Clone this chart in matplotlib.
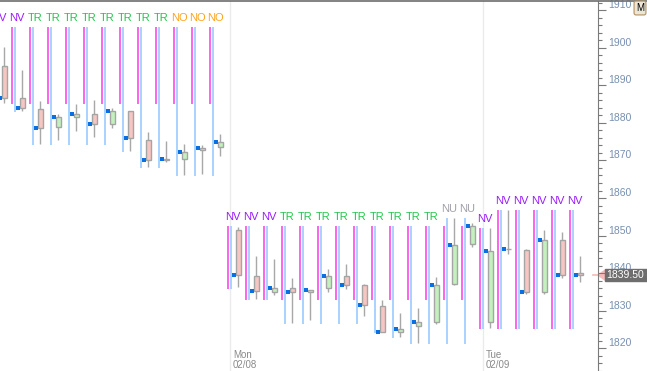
import numpy as np
import matplotlib.pyplot as plt
from matplotlib.lines import Line2D
from matplotlib.patches import Rectangle, Polygon
from matplotlib.transforms import blended_transform_factory

plt.rcParams['font.family'] = ['Liberation Sans', 'DejaVu Sans']

# candles (3 sessions, 30 min bars)
opens = [1895.0, 1886.5, 1883.75, 1879.0, 1881.5, 1882.25, 1879.75, 1883.25, 1875.5, 1870.0,
         1870.5, 1872.75, 1873.5,
         1851.5, 1839.25, 1835.0, 1836.0, 1835.0, 1836.0, 1839.25, 1837.0, 1831.25, 1824.25,
         1826.0, 1827.0, 1837.25, 1847.75,
         1827.0, 1846.5, 1846.25, 1835.0, 1848.75, 1840.0]
highs = [1900.25, 1894.0, 1885.75, 1882.25, 1885.0, 1886.0, 1884.0, 1883.25, 1877.5, 1875.25,
         1874.25, 1874.0, 1877.0,
         1852.25, 1844.5, 1843.75, 1838.75, 1835.5, 1841.0, 1842.5, 1837.25, 1833.0, 1829.5,
         1830.75, 1839.0, 1854.75, 1853.25,
         1852.0, 1856.75, 1846.5, 1851.5, 1851.0, 1844.5]
lows = [1885.25, 1883.25, 1874.25, 1875.5, 1877.75, 1876.25, 1878.5, 1872.5, 1868.25, 1869.5,
        1866.0, 1866.5, 1871.25,
        1836.25, 1833.25, 1834.25, 1826.75, 1827.5, 1835.0, 1835.75, 1828.5, 1824.25, 1823.0,
        1821.5, 1826.5, 1837.0, 1847.0,
        1825.5, 1845.0, 1834.5, 1834.5, 1838.75, 1837.75]
closes = [1886.5, 1884.0, 1878.75, 1881.5, 1882.25, 1879.75, 1883.25, 1876.0, 1870.0, 1870.5,
          1872.25, 1873.25, 1875.0,
          1839.5, 1835.25, 1836.0, 1835.0, 1835.5, 1839.25, 1837.0, 1831.5, 1824.25, 1825.25,
          1827.0, 1837.0, 1847.5, 1852.5,
          1846.0, 1846.5, 1835.0, 1848.75, 1839.5, 1839.5]

# indicator bars
pink_top = [1905.5] * 13 + [1852.5] * 14 + [1852.0] + [1856.75] * 5
pink_bot = [1885.0] * 13 + [1835.75, 1833.0, 1833.0] + [1833.0] * 11 + [1825.25] * 6
blue_top = [1905.5] * 13 + [1852.5] * 12 + [1854.75, 1854.75] + [1852.0] + [1856.75] * 5
blue_bot = [1882.75, 1882.75, 1874.0, 1874.0, 1874.0, 1874.0, 1874.0, 1872.25, 1868.0, 1868.0,
            1865.75, 1865.75, 1865.75,
            1835.75, 1833.0, 1833.0, 1826.5, 1826.5, 1826.5, 1826.5, 1826.5, 1824.0, 1822.75,
            1821.25, 1821.25, 1821.25, 1821.25] + [1825.25] * 6

labels = ['NV'] * 2 + ['TR'] * 8 + ['NO'] * 3 + ['NV'] * 3 + ['TR'] * 9 + ['NU'] * 2 + ['NV'] * 6
label_colors = {'NV': '#9a1cff', 'TR': '#1fc84a', 'NO': '#ffa31a', 'NU': '#a0a0a8'}

last_price = 1839.50
day_names = ['Mon', 'Tue']
day_dates = ['02/08', '02/09']
day_breaks = [12.55, 26.6]

o = np.array(opens); c = np.array(closes)
h = np.array(highs); l = np.array(lows)
x = np.arange(len(o))

fig = plt.figure(figsize=(6.47, 3.71), dpi=100)
ax = fig.add_axes([0, 0, 598 / 647, 370 / 371])

for xb in day_breaks:
    ax.axvline(xb, color='#ebebeb', lw=1, zorder=0)

px = 1 / 18.0
ax.bar(x - 10 * px, np.array(pink_top) - np.array(pink_bot), bottom=pink_bot,
       width=2 * px, color='#ff66ee', lw=0, zorder=1)
ax.bar(x - 7 * px, np.array(blue_top) - np.array(blue_bot), bottom=blue_bot,
       width=2.2 * px, color='#aad3ff', lw=0, zorder=1)

ax.vlines(x, l, h, color='#a8a8a8', lw=1, zorder=2)
up = c >= o
ax.bar(x[up], (c - o)[up], bottom=o[up], width=5 * px, color='#c4f0be',
       edgecolor='#a5a5a5', lw=1, zorder=3)
ax.bar(x[~up], (o - c)[~up], bottom=c[~up], width=5 * px, color='#f6c6c2',
       edgecolor='#a5a5a5', lw=1, zorder=3)
ax.plot(x - 4 * px, c, 's', ms=3.4, color='#0a6fe0', mew=0, zorder=4)

for i, lbl in enumerate(labels):
    top = max(pink_top[i], blue_top[i])
    ax.annotate(lbl, (x[i] - 5 * px, top), xytext=(0, 9), textcoords='offset pixels',
                ha='center', va='center', fontsize=8, color=label_colors[lbl],
                annotation_clip=False)

for xb, nm, dt in zip(day_breaks, day_names, day_dates):
    ax.annotate(nm, (xb, 0), xycoords=('data', 'axes fraction'), xytext=(3, 16),
                textcoords='offset pixels', ha='left', va='center', fontsize=7, color='#8a8a8a')
    ax.annotate(dt, (xb, 0), xycoords=('data', 'axes fraction'), xytext=(3, 6),
                textcoords='offset pixels', ha='left', va='center', fontsize=7, color='#8a8a8a')

ax.set_xlim(-4 / 18, 33.0)
ax.set_ylim(1814.0, 1912.4)
ax.set_xticks([])
ax.yaxis.tick_right()
major = np.arange(1820, 1911, 10)
ax.set_yticks(major, labels=[str(v) for v in major], va='bottom')
ax.set_yticks(np.arange(1814, 1913, 2), minor=True)
ax.tick_params(axis='y', which='major', direction='out', length=5.8, width=0.8,
               color='#7a7a7a', pad=1.5, labelsize=7.5, labelcolor='#7890b0')
ax.tick_params(axis='y', which='minor', direction='out', length=2.9, width=0.8, color='#7a7a7a')
for s in ['left', 'top', 'bottom']:
    ax.spines[s].set_visible(False)
ax.spines['right'].set_color('#7a7a7a')

# last price tag
tr = blended_transform_factory(fig.transFigure, ax.transData)
W = 647.0
ax.add_line(Line2D([593 / W, 599 / W], [last_price, last_price], transform=tr,
                   color='#f8b8b8', lw=1.2, clip_on=False))
ax.add_patch(Polygon([[598 / W, last_price], [606 / W, last_price + 1.5], [606 / W, last_price - 1.5]],
                     closed=True, transform=tr, color='#f8b8b8', clip_on=False))
ax.add_patch(Rectangle((605 / W, last_price - 1.65), 42 / W, 3.3, transform=tr,
                       color='#6e6e6e', clip_on=False, zorder=5))
ax.text(606.5 / W, last_price, f'{last_price:.2f}', transform=tr, ha='left', va='center',
        fontsize=7.5, color='white', zorder=6, clip_on=False)

ax.plot([589], [0.008], marker='^', ms=5, color='#606060', transform=ax.transAxes, clip_on=False)
fig.text(640 / W, 1 - 8 / 371, 'M', ha='center', va='center', fontsize=7, color='black',
         bbox=dict(boxstyle='round,pad=0.2', fc='#ece6d6', ec='#b09060', lw=0.8))
fig.add_artist(Line2D([0, 1], [1 - 0.5 / 371, 1 - 0.5 / 371], transform=fig.transFigure,
                      color='#6d6d6d', lw=1.2))

fig.savefig('out.png', dpi=100)
